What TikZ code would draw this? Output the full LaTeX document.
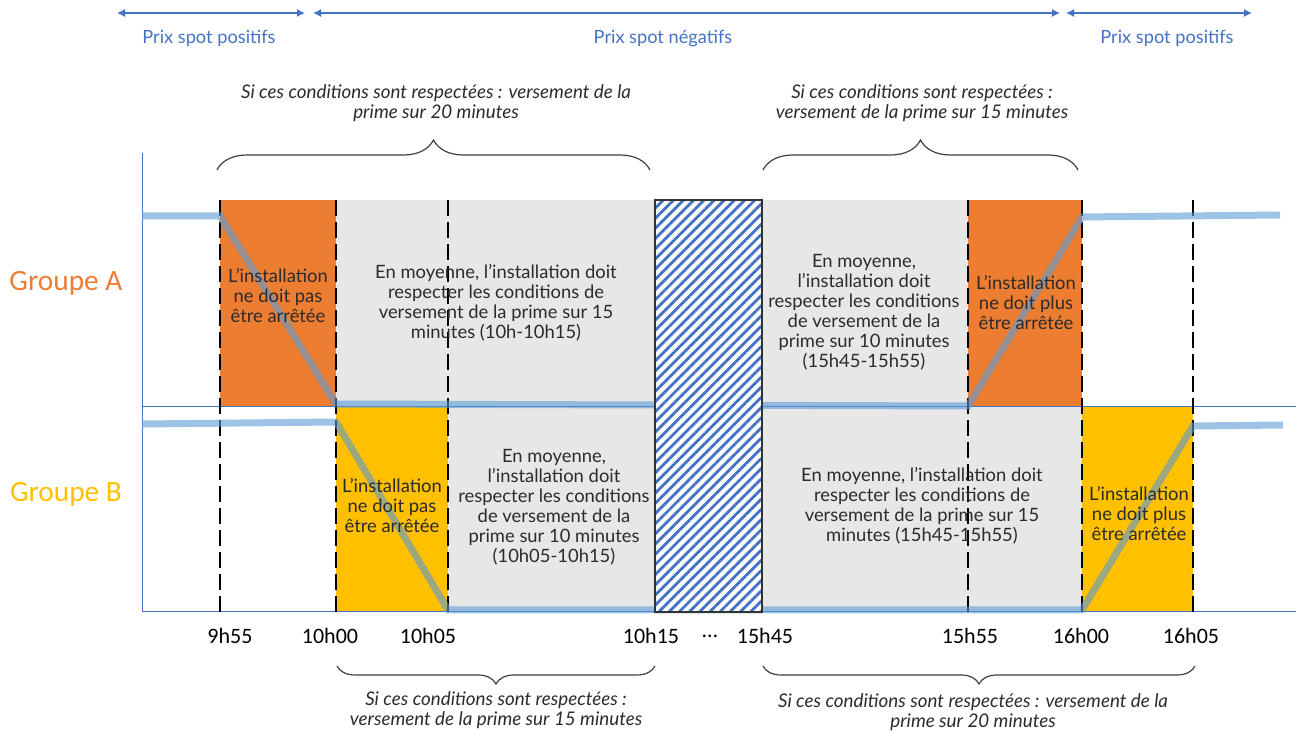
\documentclass[tikz,border=0pt]{standalone}
\usepackage{fontspec}
\setmainfont{Carlito}
\newfontfamily\txtfont{Lato}
\usetikzlibrary{arrows.meta,decorations.pathreplacing,patterns.meta}
\definecolor{orangeA}{HTML}{ED7D31}
\definecolor{jauneB}{HTML}{FFC000}
\definecolor{grisfond}{HTML}{E7E7E7}
\definecolor{bleuprix}{HTML}{4472C4}
\definecolor{bleucourbe}{HTML}{5B9BD5}
\definecolor{texte}{HTML}{2B2B2B}
\tikzstyle{repere} = [black,line width=1.3pt,dash pattern=on 8pt off 3pt]
\tikzstyle{courbe} = [bleucourbe,opacity=0.6,line width=3.5pt]
\tikzstyle{axe} = [bleuprix,line width=0.5pt]
\tikzstyle{prix} = [bleuprix,line width=0.6pt,{Latex[length=4pt,width=4pt]}-{Latex[length=4pt,width=4pt]}]
\tikzstyle{accolade} = [draw=black!75,line width=0.6pt,decorate]
\tikzstyle{boite} = [text=texte,align=center,inner sep=0pt,font=\txtfont\fontsize{9.2}{10}\selectfont]
\tikzstyle{cond} = [text=texte,align=center,inner sep=0pt,font=\txtfont\itshape\fontsize{9.4}{10}\selectfont]
\tikzstyle{etiq} = [bleuprix,inner sep=0pt,font=\txtfont\fontsize{9.1}{10}\selectfont]
\tikzstyle{heure} = [inner sep=0pt,font=\fontsize{11}{13}\selectfont]
\tikzstyle{groupe} = [inner sep=0pt,font=\fontsize{14.7}{17}\selectfont]

\begin{document}
\begin{tikzpicture}[x=0.5pt,y=-0.5pt]
\useasboundingbox (0,0) rectangle (1296,731);

% zones colorees
\fill[orangeA] (220,200) rectangle (336,407);
\fill[grisfond] (336,200) rectangle (655,407);
\fill[grisfond] (762,200) rectangle (968,407);
\fill[orangeA] (968,200) rectangle (1082,407);
\fill[jauneB] (336,407) rectangle (448,612);
\fill[grisfond] (448,407) rectangle (655,612);
\fill[grisfond] (762,407) rectangle (1082,612);
\fill[jauneB] (1082,407) rectangle (1193,612);

% axes
\draw[axe] (142,153)--(142,612);
\draw[axe] (142,407)--(1296,407) (142,612)--(1296,612);

% reperes en pointilles
\foreach \x in {220,336,448,968,1082,1193}{
\draw[repere] (\x,200)--(\x,612);
}

% courbes des groupes
\draw[courbe] (142,216)--(220,216)--(336,404)--(968,406)--(1082,217)--(1280,215);
\draw[courbe] (142,424)--(336,422)--(448,610)--(1082,610)--(1193,426)--(1283,425);

% coupure hachuree
\fill[white] (655,200) rectangle (762,612);
\draw[black!80,line width=0.6pt,pattern={Lines[angle=45,distance=3.6pt,line width=1.4pt]},pattern color=bleuprix] (655,200) rectangle (762,612);

% fleches des prix spot
\coordinate (p1) at (117,13);
\coordinate (p2) at (305,13);
\coordinate (n1) at (313,13);
\coordinate (n2) at (1060,13);
\coordinate (q1) at (1066,13);
\coordinate (q2) at (1252,13);
\draw[prix] (p1)--(p2);
\draw[prix] (n1)--(n2);
\draw[prix] (q1)--(q2);
\node[etiq] (posgauche) at (209,38) {Prix spot positifs};
\node[etiq] (neg) at (663,38) {Prix spot négatifs};
\node[etiq] (posdroite) at (1167,38) {Prix spot positifs};

% accolades
\coordinate (h1) at (217,170);
\coordinate (h2) at (650,170);
\coordinate (h3) at (763,170);
\coordinate (h4) at (1078,170);
\coordinate (b1) at (337,666);
\coordinate (b2) at (655,666);
\coordinate (b3) at (763,666);
\coordinate (b4) at (1195,666);
\draw[accolade,decoration={brace,amplitude=15pt}] (h1)--(h2);
\draw[accolade,decoration={brace,amplitude=15pt}] (h3)--(h4);
\draw[accolade,decoration={brace,amplitude=9pt,mirror}] (b1)--(b2);
\draw[accolade,decoration={brace,amplitude=9pt,mirror}] (b3)--(b4);

\node[cond] (condA) at (436,103) {Si ces conditions sont respectées : versement de la\\prime sur 20 minutes};
\node[cond] (condB) at (922,103) {Si ces conditions sont respectées :\\versement de la prime sur 15 minutes};
\node[cond] (condC) at (496,710) {Si ces conditions sont respectées :\\versement de la prime sur 15 minutes};
\node[cond] (condD) at (973,712) {Si ces conditions sont respectées : versement de la\\prime sur 20 minutes};

% groupes
\node[groupe,orangeA] (grA) at (66,283) {Groupe A};
\node[groupe,jauneB] (grB) at (66,494) {Groupe B};

% textes des zones
\node[boite] (a1) at (278,296) {L’installation\\ne doit pas\\être arrêtée};
\node[boite] (a2) at (496,303) {En moyenne, l’installation doit\\respecter les conditions de\\versement de la prime sur 15\\minutes (10h-10h15)};
\node[boite] (a3) at (864,312) {En moyenne,\\l’installation doit\\respecter les conditions\\de versement de la\\prime sur 10 minutes\\(15h45-15h55)};
\node[boite] (a4) at (1026,303) {L’installation\\ne doit plus\\être arrêtée};
\node[boite] (b5) at (392,506) {L’installation\\ne doit pas\\être arrêtée};
\node[boite] (b6) at (554,507) {En moyenne,\\l’installation doit\\respecter les conditions\\de versement de la\\prime sur 10 minutes\\(10h05-10h15)};
\node[boite] (b7) at (922,506) {En moyenne, l’installation doit\\respecter les conditions de\\versement de la prime sur 15\\minutes (15h45-15h55)};
\node[boite] (b8) at (1139,514) {L’installation\\ne doit plus\\être arrêtée};

% heures
\foreach \x/\h [count=\i] in {230/9h55,330/10h00,428/10h05,651/10h15,710/{\ldots},765/15h45,970/15h55,1081/16h00,1191/16h05}{
\node[heure] (t\i) at (\x,636) {\h};
}
\end{tikzpicture}
\end{document}
